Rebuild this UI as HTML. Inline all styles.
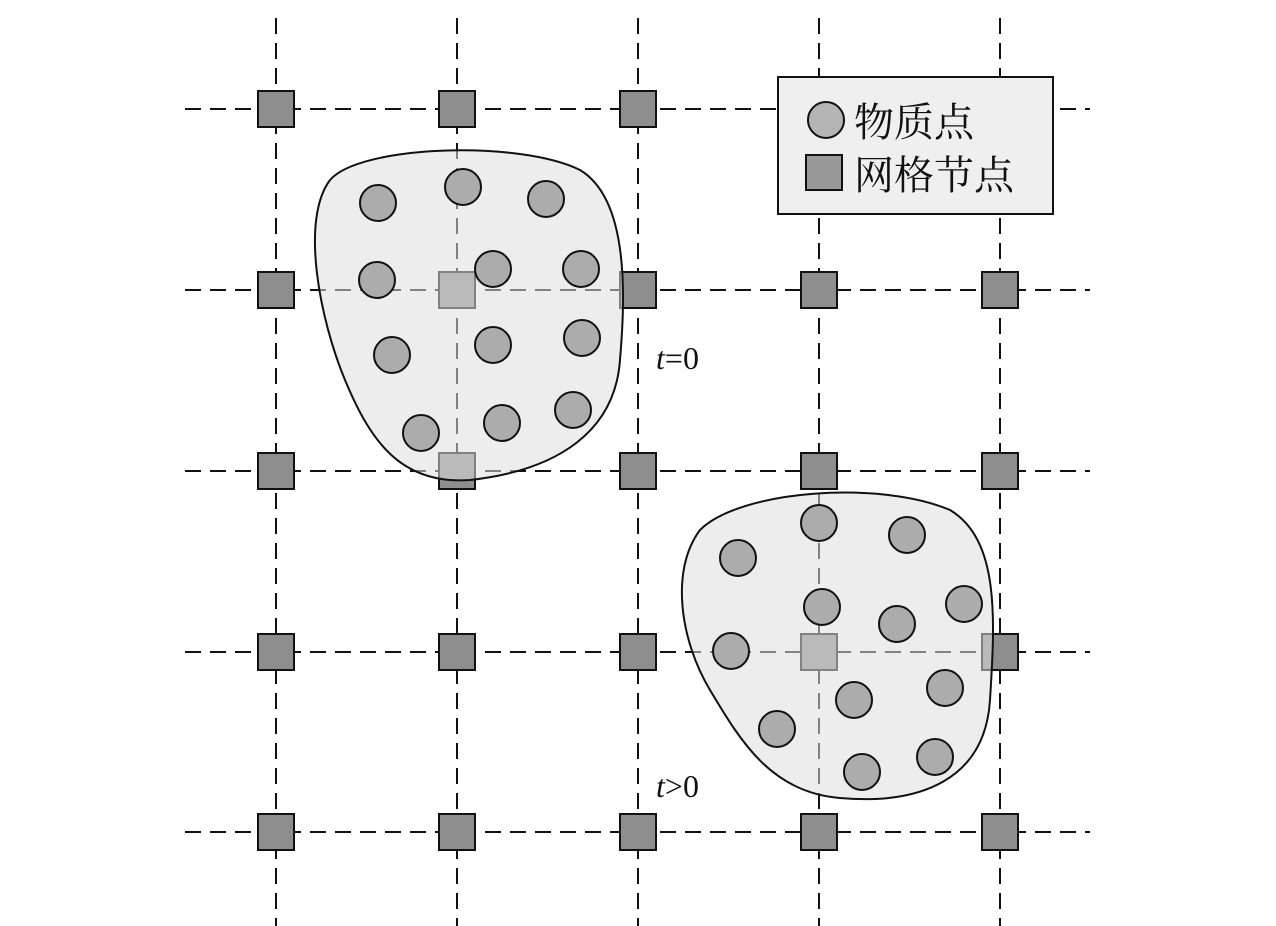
<!DOCTYPE html>
<html><head><meta charset="utf-8"><style>html,body{margin:0;padding:0;background:#fff}svg{display:block}</style></head>
<body>
<svg width="1276" height="926" viewBox="0 0 1276 926" xmlns="http://www.w3.org/2000/svg">
<g stroke="#111" stroke-width="2" stroke-dasharray="16 9">
<line x1="276" y1="18" x2="276" y2="926"/><line x1="457" y1="18" x2="457" y2="926"/><line x1="638" y1="18" x2="638" y2="926"/><line x1="819" y1="18" x2="819" y2="926"/><line x1="1000" y1="18" x2="1000" y2="926"/>
<line x1="185" y1="109" x2="1090" y2="109"/><line x1="185" y1="290" x2="1090" y2="290"/><line x1="185" y1="471" x2="1090" y2="471"/><line x1="185" y1="652" x2="1090" y2="652"/><line x1="185" y1="832" x2="1090" y2="832"/>
</g>
<g fill="#8e8e8e" stroke="#111" stroke-width="2">
<rect x="258" y="91" width="36" height="36"/><rect x="439" y="91" width="36" height="36"/><rect x="620" y="91" width="36" height="36"/>
<rect x="258" y="272" width="36" height="36"/><rect x="439" y="272" width="36" height="36"/><rect x="620" y="272" width="36" height="36"/><rect x="801" y="272" width="36" height="36"/><rect x="982" y="272" width="36" height="36"/>
<rect x="258" y="453" width="36" height="36"/><rect x="439" y="453" width="36" height="36"/><rect x="620" y="453" width="36" height="36"/><rect x="801" y="453" width="36" height="36"/><rect x="982" y="453" width="36" height="36"/>
<rect x="258" y="634" width="36" height="36"/><rect x="439" y="634" width="36" height="36"/><rect x="620" y="634" width="36" height="36"/><rect x="801" y="634" width="36" height="36"/><rect x="982" y="634" width="36" height="36"/>
<rect x="258" y="814" width="36" height="36"/><rect x="439" y="814" width="36" height="36"/><rect x="620" y="814" width="36" height="36"/><rect x="801" y="814" width="36" height="36"/><rect x="982" y="814" width="36" height="36"/>
</g>
<g fill="rgba(222,222,222,0.55)" stroke="#111" stroke-width="2">
<path d="M330,180 C360,145 520,140 580,170 C630,200 625,300 620,360 C615,430 560,470 470,480 C400,485 370,440 345,380 C320,320 300,220 330,180 Z"/>
<path d="M700,530 C740,490 880,480 950,510 C1000,540 995,620 990,700 C985,780 920,805 840,798 C770,792 740,740 710,690 C680,640 670,570 700,530 Z"/>
</g>
<g fill="#acacac" stroke="#111" stroke-width="2">
<circle cx="378" cy="203" r="18"/><circle cx="463" cy="187" r="18"/><circle cx="546" cy="199" r="18"/><circle cx="377" cy="280" r="18"/><circle cx="493" cy="269" r="18"/><circle cx="581" cy="269" r="18"/><circle cx="392" cy="355" r="18"/><circle cx="493" cy="345" r="18"/><circle cx="582" cy="338" r="18"/><circle cx="421" cy="433" r="18"/><circle cx="502" cy="423" r="18"/><circle cx="573" cy="410" r="18"/>
<circle cx="819" cy="523" r="18"/><circle cx="907" cy="535" r="18"/><circle cx="738" cy="558" r="18"/><circle cx="822" cy="607" r="18"/><circle cx="897" cy="624" r="18"/><circle cx="964" cy="604" r="18"/><circle cx="731" cy="651" r="18"/><circle cx="854" cy="700" r="18"/><circle cx="945" cy="688" r="18"/><circle cx="777" cy="729" r="18"/><circle cx="862" cy="772" r="18"/><circle cx="935" cy="757" r="18"/>
</g>
<rect x="778" y="77" width="275" height="137" fill="#efefef" stroke="#111" stroke-width="2"/>
<circle cx="826" cy="120" r="18" fill="#b4b4b4" stroke="#111" stroke-width="2"/>
<rect x="806" y="155" width="36" height="35" fill="#999" stroke="#111" stroke-width="2"/>
<g font-family="'Liberation Serif','Noto Serif CJK SC',serif" font-size="40" fill="#111">
<text x="854" y="136">物质点</text>
<text x="854" y="189">网格节点</text>
</g>
<g font-family="'Liberation Serif',serif" font-size="32" fill="#111">
<text x="656" y="369"><tspan font-style="italic">t</tspan>=0</text>
<text x="656" y="797"><tspan font-style="italic">t</tspan>&gt;0</text>
</g>
</svg>
</body></html>
